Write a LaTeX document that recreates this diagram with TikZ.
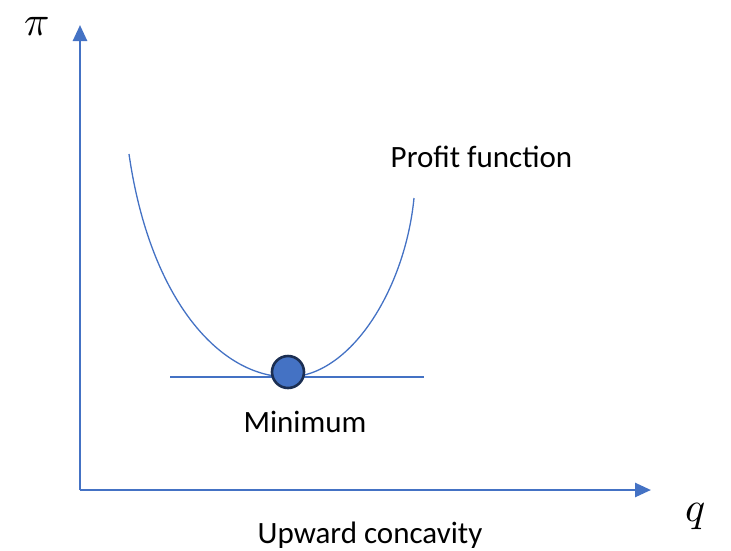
\documentclass[tikz,border=0pt]{standalone}
\usepackage{fontspec}
\usepackage{unicode-math}
\setmainfont{Carlito}
\setmathfont{Latin Modern Math}
\usetikzlibrary{arrows.meta}
\definecolor{axisblue}{HTML}{4472C4}
\definecolor{navy}{HTML}{1B2E52}
\begin{document}
\begin{tikzpicture}[x=1pt,y=-1pt,
  axis/.style={axisblue,line width=2.6pt,-{Triangle[length=16pt,width=14pt]}},
  thin curve/.style={axisblue,line width=1.3pt},
  label text/.style={font=\fontsize{31}{36}\selectfont,inner sep=0pt,anchor=base},
  var text/.style={font=\fontsize{42}{48}\selectfont,inner sep=0pt,anchor=base}]
  \useasboundingbox (0,0) rectangle (731,550);
  % axes
  \coordinate (O) at (80,490);
  \coordinate (ytop) at (80,25);
  \coordinate (xend) at (651,490);
  \draw[axis] (O) -- (ytop);
  \draw[axis] (O) -- (xend);
  \node[var text] (pi) at (37,35) {$\pi$};
  \node[var text] (q) at (696,521) {$q$};
  % tangent at the minimum
  \coordinate (tl) at (170,377);
  \coordinate (tr) at (424,377);
  \draw[thin curve] (tl) -- (tr);
  % profit curve
  \coordinate (cl) at (129,154);
  \coordinate (cm) at (288,377);
  \coordinate (cr) at (414,198);
  \draw[thin curve] (cl) .. controls (150,300) and (220,377) .. (cm)
                         .. controls (350,377) and (405,290) .. (cr);
  % minimum point
  \node[circle,fill=axisblue,draw=navy,line width=2.6pt,minimum size=32pt,inner sep=0pt] (min) at (288,372) {};
  % labels
  \node[label text] (pf) at (481.5,167) {Profit function};
  \node[label text] (mn) at (305,432) {Minimum};
  \node[label text] (uc) at (370,543) {Upward concavity};
\end{tikzpicture}
\end{document}
